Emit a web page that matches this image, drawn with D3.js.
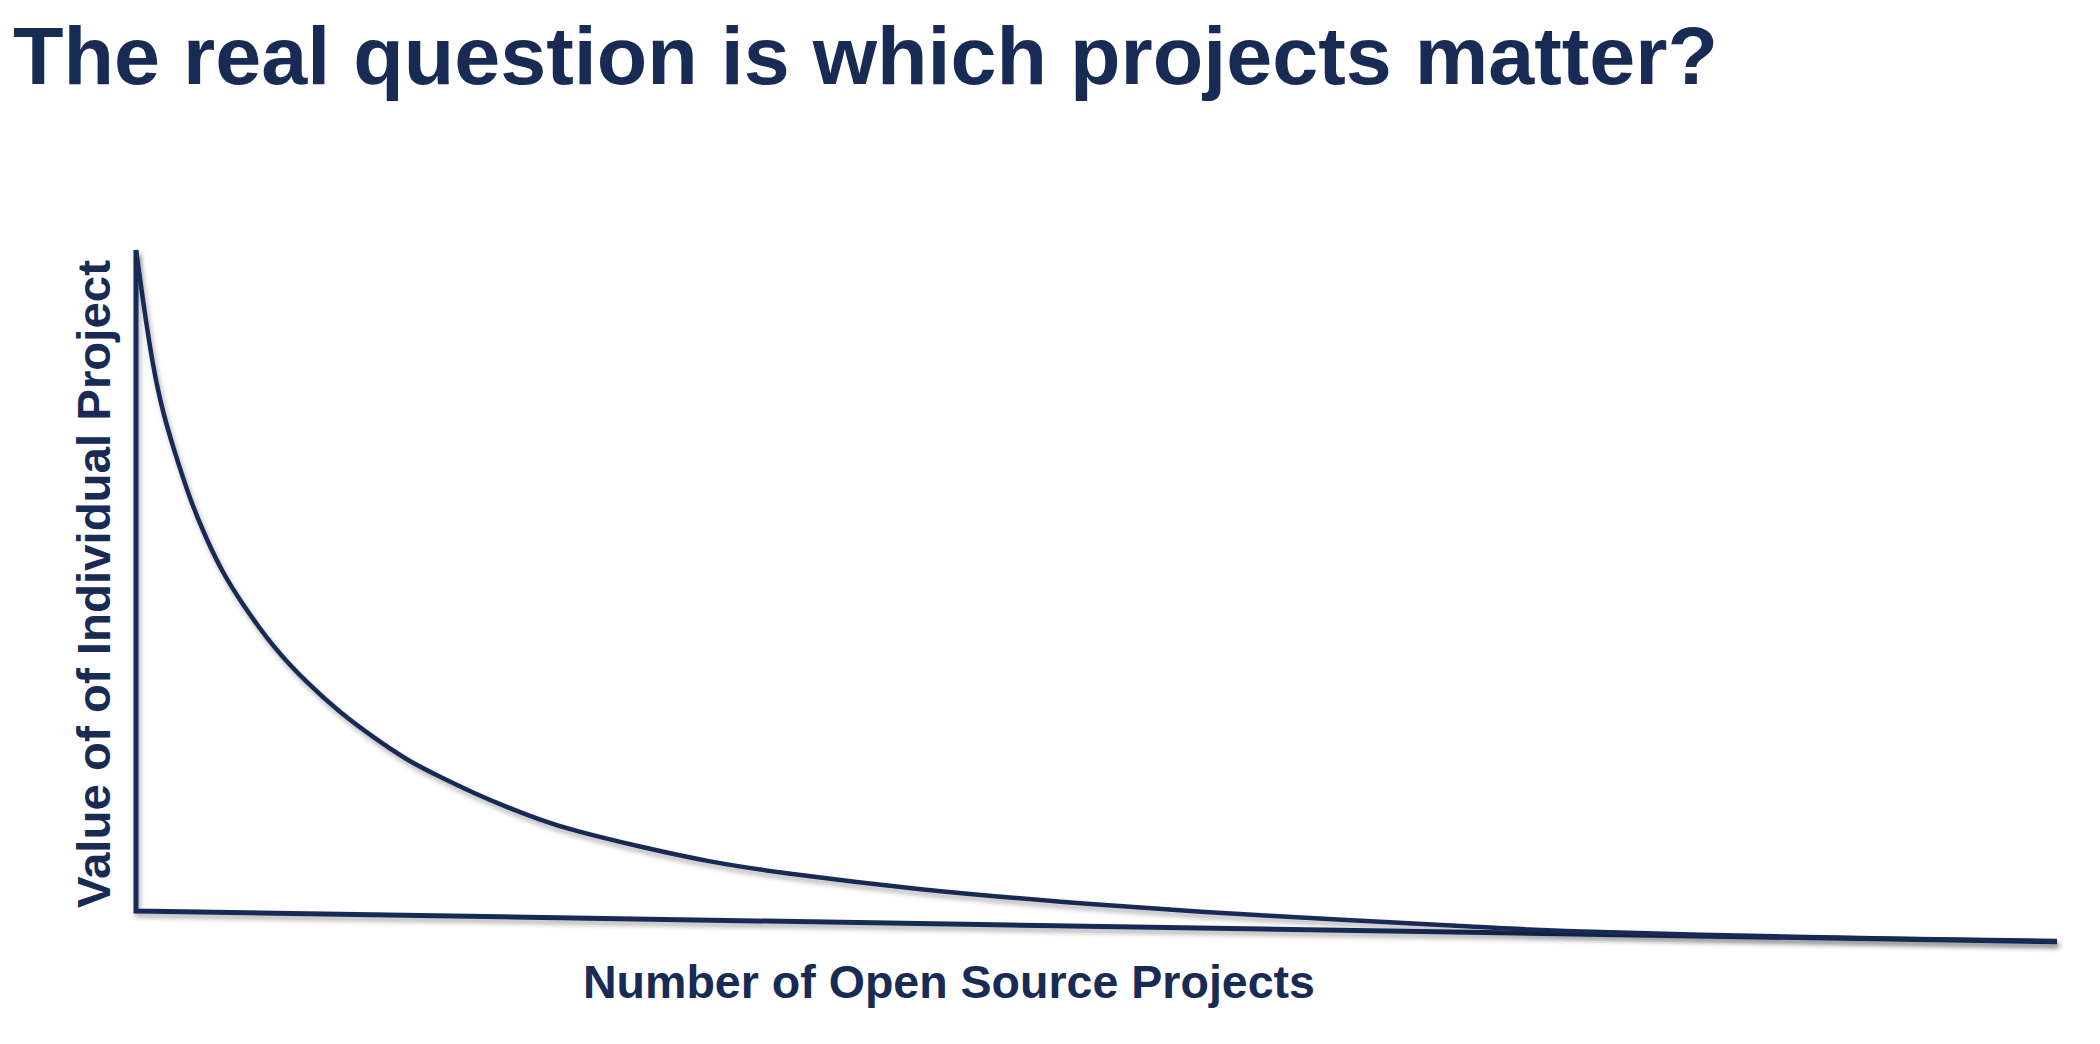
<!DOCTYPE html>
<html>
<head>
<meta charset="utf-8">
<script src="https://cdn.jsdelivr.net/npm/d3@7"></script>
<style>
  html, body { margin: 0; padding: 0; background: #ffffff; }
  svg { display: block; }
</style>
</head>
<body>
<svg id="chart" width="2100" height="1044"></svg>
<script>
// ---- data ----
const titleText = "The real question is which projects matter?";
const xAxisLabel = "Number of Open Source Projects";
const yAxisLabel = "Value of of Individual Project";

// Curve: value of individual project vs. number of projects (conceptual, 0-100 units)
const curveX = [0, 0.36, 0.88, 1.41, 1.93, 2.81, 3.69, 4.53, 5.41, 7.13, 8.90, 10.62, 12.34, 14.11, 15.83, 17.54, 19.31, 21.03, 22.59, 26.24, 29.88, 33.58, 40.86, 48.15, 55.44, 62.78, 70.07, 73.71, 81.42, 89.22, 100];
const curveY = [100, 92.4, 82.3, 75.3, 70.2, 62.2, 56.1, 51.1, 47.0, 39.9, 34.5, 30.0, 26.3, 22.8, 20.3, 17.9, 15.7, 13.8, 12.3, 9.7, 7.4, 5.75, 3.18, 1.36, -0.15, -1.36, -2.42, -3.03, -3.63, -4.08, -4.55];

// Axis frame (slightly tilted baseline as in the original slide)
const axisX = [0, 0, 100];
const axisY = [100, 0, -4.65];

// ---- drawing ----
const svg = d3.select("#chart");
const color = "#172b55";

const defs = svg.append("defs");
const f = defs.append("filter").attr("id", "shadow")
  .attr("x", "-5%").attr("y", "-5%").attr("width", "115%").attr("height", "130%");
f.append("feDropShadow").attr("dx", 2).attr("dy", 4).attr("stdDeviation", 2.5)
  .attr("flood-color", "#000").attr("flood-opacity", 0.3);

const x = d3.scaleLinear().domain([0, 100]).range([136, 2057]);
const y = d3.scaleLinear().domain([0, 100]).range([911, 250]);

// Title
svg.append("text")
  .attr("x", 13).attr("y", 84)
  .attr("font-family", "Liberation Sans, Arial, sans-serif")
  .attr("font-weight", "bold")
  .attr("font-size", 82)
  .attr("textLength", 1705)
  .attr("lengthAdjust", "spacingAndGlyphs")
  .attr("fill", color)
  .text(titleText);

// Axis frame
const axisPts = axisX.map((v, i) => [v, axisY[i]]);
svg.append("path")
  .attr("d", d3.line().x(d => x(d[0])).y(d => y(d[1]))(axisPts))
  .attr("fill", "none")
  .attr("stroke", color)
  .attr("stroke-width", 5)
  .attr("stroke-linejoin", "miter")
  .attr("filter", "url(#shadow)");

// Curve
const curvePts = curveX.map((v, i) => [v, curveY[i]]);
svg.append("path")
  .attr("d", d3.line().curve(d3.curveBasis).x(d => x(d[0])).y(d => y(d[1]))(curvePts))
  .attr("fill", "none")
  .attr("stroke", color)
  .attr("stroke-width", 4.5)
  .attr("filter", "url(#shadow)");

// Axis labels
svg.append("text")
  .attr("transform", "translate(110,584) rotate(-90)")
  .attr("text-anchor", "middle")
  .attr("font-family", "Liberation Sans, Arial, sans-serif")
  .attr("font-weight", "bold")
  .attr("font-size", 47)
  .attr("textLength", 648)
  .attr("lengthAdjust", "spacingAndGlyphs")
  .attr("fill", color)
  .text(yAxisLabel);

svg.append("text")
  .attr("x", 949).attr("y", 998)
  .attr("text-anchor", "middle")
  .attr("font-family", "Liberation Sans, Arial, sans-serif")
  .attr("font-weight", "bold")
  .attr("font-size", 46)
  .attr("textLength", 732)
  .attr("lengthAdjust", "spacingAndGlyphs")
  .attr("fill", color)
  .text(xAxisLabel);
</script>
</body>
</html>
